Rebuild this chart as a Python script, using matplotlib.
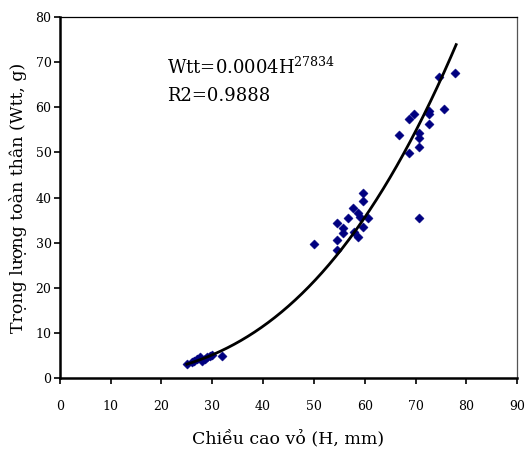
import numpy as np
import matplotlib.pyplot as plt

# Shell height (H, mm) vs total weight (Wtt, g)
shell_height = [25, 26, 26.5, 27, 27.5, 28, 28.5, 29, 29.5, 30, 32,
                50, 54.6, 54.6, 54.6, 55.7, 55.7, 56.7, 57.7, 57.8, 58.7, 58.7,
                59.1, 59.6, 59.6, 59.6, 60.7, 70.7,
                66.8, 68.8, 68.8, 69.8, 70.7, 70.7, 70.7, 72.7, 72.7, 72.7,
                74.7, 75.7, 77.8]
total_weight = [3.2, 3.5, 3.8, 4.2, 4.8, 3.8, 4.3, 4.8, 5.0, 5.2, 5.0,
                29.7, 28.5, 30.6, 34.3, 33.2, 32.1, 35.5, 37.8, 32.4, 36.7, 31.3,
                35.8, 41.1, 39.3, 33.5, 35.5, 35.4,
                53.9, 57.4, 49.8, 58.5, 54.4, 53.3, 51.1, 59.2, 58.5, 56.3,
                66.8, 59.6, 67.6]

# Power fit Wtt = a * H^b
fit_a = 0.0004
fit_b = 2.7834
fit_range = (25, 78)

x_ticks = [0, 10, 20, 30, 40, 50, 60, 70, 80, 90]
y_ticks = [0, 10, 20, 30, 40, 50, 60, 70, 80]

plt.rcParams["font.family"] = ["DejaVu Serif"]
plt.rcParams["mathtext.fontset"] = "dejavuserif"

fig = plt.figure(figsize=(5.25, 4.59), dpi=100)
ax = fig.add_axes([0.114, 0.176, 0.871, 0.787])

ax.scatter(shell_height, total_weight, marker="D", s=22, color="#000080",
           edgecolors="#000080", linewidths=0.3, zorder=3)

xf = np.linspace(fit_range[0], fit_range[1], 200)
ax.plot(xf, fit_a * xf ** fit_b, color="black", linewidth=2, zorder=4)

ax.set_xlim(0, 90)
ax.set_ylim(0, 80)
ax.set_xticks(x_ticks)
ax.set_yticks(y_ticks)
ax.tick_params(labelsize=9, direction="out", length=4, width=1.2, pad=12)
ax.tick_params(axis="y", pad=2)
ax.tick_params(top=False, right=False)

for side in ["left", "bottom"]:
    ax.spines[side].set_linewidth(1.8)
for side in ["top", "right"]:
    ax.spines[side].set_linewidth(0.9)
ax.spines["right"].set_color("#555555")

ax.set_xlabel("Chiều cao vỏ (H, mm)", fontsize=12.5, labelpad=12)
ax.set_ylabel("Trọng lượng toàn thân (Wtt, g)", fontsize=12.5, labelpad=6)

ax.text(0.234, 0.862, "Wtt=0.0004H$^{27834}$", transform=ax.transAxes,
        fontsize=13, ha="left", va="center")
ax.text(0.234, 0.78, "R2=0.9888", transform=ax.transAxes,
        fontsize=13, ha="left", va="center")

fig.savefig("out.png", dpi=100)
